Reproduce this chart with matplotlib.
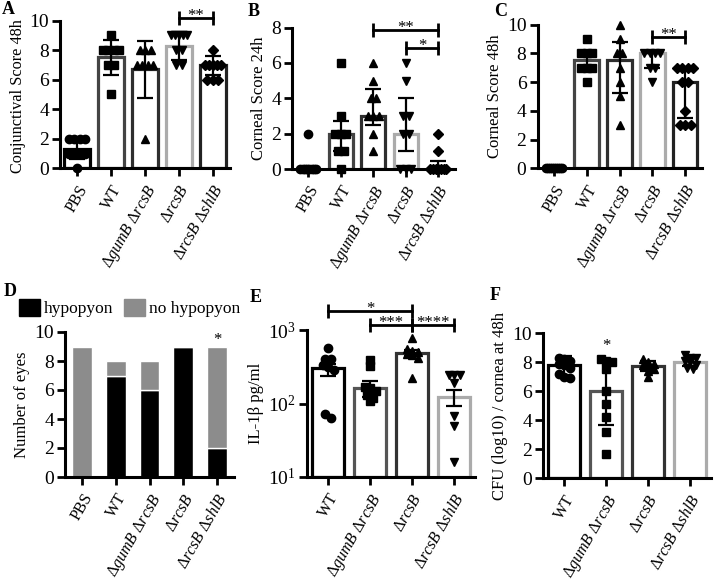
import matplotlib
matplotlib.use("Agg")
import matplotlib.pyplot as plt
from matplotlib.patches import Patch
import numpy as np

plt.rcParams["font.family"] = ["Liberation Serif", "DejaVu Serif"]
plt.rcParams["mathtext.fontset"] = "custom"
plt.rcParams["mathtext.rm"] = "Liberation Serif"
plt.rcParams["mathtext.it"] = "Liberation Serif:italic"
plt.rcParams["mathtext.bf"] = "Liberation Serif:bold"

# tick labels
labels5 = ["PBS", "WT",
           r"$\Delta\mathit{gumB}$ $\Delta\mathit{rcsB}$",
           r"$\Delta\mathit{rcsB}$",
           r"$\Delta\mathit{rcsB}$ $\Delta\mathit{shlB}$"]
labels4 = labels5[1:]

# A - conjunctival score 48h
a_pts = [[2, 2, 2, 2, 1, 1, 1, 1, 0], [9, 8, 8, 8, 8, 7, 7, 5],
         [8, 8, 8, 7, 7, 7, 7, 2], [9, 9, 9, 9, 9, 8, 8, 7, 7],
         [8, 7, 7, 7, 7, 7, 6, 6, 6]]
a_bar = [1.33, 7.5, 6.75, 8.25, 7.0]
a_lo = [0.6, 6.3, 4.75, 7.35, 6.3]
a_hi = [2.0, 8.7, 8.6, 9.2, 7.6]

# B - corneal score 24h
b_pts = [[2, 0, 0, 0, 0, 0, 0, 0, 0], [6, 3, 2, 2, 2, 1, 1, 0],
         [6, 5, 4, 4, 3, 3, 3, 2, 1], [6, 5, 3, 3, 2, 2, 0, 0, 0],
         [2, 1, 0, 0, 0, 0, 0, 0, 0]]
b_bar = [0, 2, 3, 2, 0]
b_lo = [0, 1, 2.5, 1, 0]
b_hi = [0, 2.7, 4.5, 4, 0.45]

# C - corneal score 48h
c_pts = [[0, 0, 0, 0, 0, 0, 0, 0, 0], [9, 8, 8, 8, 7, 7, 7, 6],
         [10, 9, 8, 8, 7, 6, 5, 3], [8, 8, 8, 8, 7, 7, 6],
         [7, 7, 7, 7, 6, 6, 4, 3, 3, 3]]
c_bar = [0, 7.5, 7.5, 8, 6]
c_lo = [0, 7, 5.25, 7, 3.5]
c_hi = [0, 8, 8.75, 8, 6.9]

# D - hypopyon counts
d_hyp = [0, 7, 6, 9, 2]
d_nohyp = [9, 1, 2, 0, 7]

# E - IL-1b pg/ml
e_pts = [[570, 400, 400, 330, 310, 290, 64, 71],
         [396, 322, 170, 160, 150, 132, 107, 118],
         [780, 560, 520, 500, 470, 450, 420, 224],
         [247, 247, 247, 191, 67, 50, 16]]
e_bar = [300, 160, 490, 123]
e_lo = [240, 124, 440, 92]
e_hi = [350, 201, 530, 151]

# F - CFU log10
f_pts = [[8.3, 8.2, 8.1, 7.9, 7.8, 7.6, 7.2, 7.0, 6.9],
         [8.2, 8.1, 8.0, 7.5, 6.0, 5.1, 4.2, 3.2, 1.7],
         [8.2, 8.0, 7.9, 7.8, 7.7, 7.5, 7.4, 7.0],
         [8.5, 8.3, 8.3, 8.1, 8.0, 7.8, 7.6, 7.5]]
f_bar = [7.8, 6.0, 7.75, 8.0]
f_lo = [7.1, 3.7, 7.4, 7.7]
f_hi = [8.4, 8.1, 8.1, 8.3]

W, H = 714, 582
fig = plt.figure(figsize=(W / 100, H / 100), dpi=100)


def ax_px(left, top, width, bottom):
    return fig.add_axes([left / W, 1 - bottom / H, width / W, (bottom - top) / H])


def style(ax, n, labels):
    for s in ["top", "right"]:
        ax.spines[s].set_visible(False)
    for s in ["left", "bottom"]:
        ax.spines[s].set_linewidth(2.2)
    ax.tick_params(axis="both", width=2, length=6, labelsize=14)
    ax.tick_params(axis="y", pad=2)
    ax.tick_params(axis="x", labelsize=11.5, pad=4)
    ax.set_xlim(-0.5, n - 0.5)
    ax.set_xticks(range(n))
    ax.set_xticklabels(labels, rotation=60, ha="right", rotation_mode="anchor")


def swarm(ax, x0, vals, d=5.5, maxw=16):
    vals = np.sort(np.array(vals, dtype=float))[::-1]
    pix = ax.transData.transform(np.column_stack([np.full(len(vals), x0), vals]))
    rows = []
    for p in pix:
        if rows and abs(rows[-1][0][1] - p[1]) < 5:
            rows[-1].append(p)
        else:
            rows.append([p])
    out = []
    for row in rows:
        n = len(row)
        step = d if n < 2 else min(d, maxw / (n - 1))
        for i, p in enumerate(row):
            out.append([p[0] + (i - (n - 1) / 2) * step, p[1]])
    return ax.transData.inverted().transform(np.array(out))


def scatter_bar(ax, pts, bar, lo, hi, edges, markers, sizes, bottom=0):
    x = np.arange(len(bar))
    bar = np.array(bar, dtype=float)
    ax.bar(x, bar - bottom, bottom=bottom, width=0.75, facecolor="white",
           edgecolor=edges, linewidth=2.3, zorder=1)
    for i in range(len(bar)):
        xy = swarm(ax, i, pts[i])
        ax.plot(xy[:, 0], xy[:, 1], ls="none", marker=markers[i], ms=sizes[i],
                color="black", zorder=2, clip_on=False)
    err = [bar - np.array(lo), np.array(hi) - bar]
    ax.errorbar(x, bar, yerr=err, fmt="none", ecolor="black", elinewidth=1.6,
                capsize=5.5, capthick=1.6, zorder=3)


def stars(ax, x, y, txt):
    ax.annotate(txt, (x, y), xytext=(0, -1.5), textcoords="offset points",
                ha="center", va="baseline", fontsize=12, annotation_clip=False)


def bracket(ax, x1, x2, y, txt):
    ax.plot([x1, x2], [y, y], color="black", lw=2, marker="|", ms=10, mew=2,
            clip_on=False, zorder=4)
    stars(ax, (x1 + x2) / 2, y, txt)


edges5 = ["black", "#444444", "#2e2e2e", "#ababab", "#222222"]
marks5 = ["o", "s", "^", "v", "D"]
sizes5 = [6, 6, 6, 6, 4.8]
edges4 = ["black", "#555555", "#333333", "#ababab"]
marks4 = ["o", "s", "^", "v"]
sizes4 = [6, 6, 6, 6]
ylab_fs = 12

# A
axA = ax_px(60, 20.5, 170, 168.3)
axA.set_ylim(0, 10)
axA.set_yticks(range(0, 11, 2))
style(axA, 5, labels5)
scatter_bar(axA, a_pts, a_bar, a_lo, a_hi, edges5, marks5, sizes5)
bracket(axA, 3, 4, 10.15, "**")
axA.set_ylabel("Conjunctival Score 48h", fontsize=11.7)
axA.yaxis.set_label_coords(-0.2, 0.49)

# B
axB = ax_px(292, 27.5, 162.5, 169)
axB.set_ylim(0, 8)
axB.set_yticks(range(0, 9, 2))
style(axB, 5, labels5)
scatter_bar(axB, b_pts, b_bar, b_lo, b_hi, edges5, marks5, sizes5)
bracket(axB, 2, 4, 7.85, "**")
bracket(axB, 3, 4, 6.85, "*")
axB.set_ylabel("Corneal Score 24h", fontsize=ylab_fs, labelpad=3)

# C
axC = ax_px(537.5, 24.5, 164, 168.3)
axC.set_ylim(0, 10)
axC.set_yticks(range(0, 11, 2))
style(axC, 5, labels5)
scatter_bar(axC, c_pts, c_bar, c_lo, c_hi, edges5, marks5, sizes5)
bracket(axC, 3, 4, 9.15, "**")
axC.set_ylabel("Corneal Score 48h", fontsize=ylab_fs, labelpad=3)

# D
axD = ax_px(65, 332, 169, 477)
axD.set_ylim(0, 10)
axD.set_yticks(range(0, 11, 2))
style(axD, 5, labels5)
xd = np.arange(5)
axD.bar(xd, d_hyp, width=0.58, color="black", edgecolor="white", linewidth=1)
axD.bar(xd, d_nohyp, bottom=d_hyp, width=0.58, color="#8c8c8c",
        edgecolor="white", linewidth=1)
stars(axD, 4, d_hyp[4] + d_nohyp[4] + 0.3, "*")
axD.set_ylabel("Number of eyes", fontsize=ylab_fs, labelpad=3)
fig.legend(handles=[Patch(color="black"), Patch(color="#8c8c8c")],
           labels=["hypopyon", "no hypopyon"], loc="center left",
           bbox_to_anchor=(19 / W, 1 - 308 / H), ncol=2, frameon=False,
           handlelength=1.2, handleheight=1.2, handletextpad=0.25,
           columnspacing=0.6, fontsize=12.5, borderpad=0, borderaxespad=0)

# E
axE = ax_px(307, 330, 168, 477)
axE.set_yscale("log")
axE.set_ylim(10, 1000)
style(axE, 4, labels4)
axE.minorticks_off()
scatter_bar(axE, e_pts, e_bar, e_lo, e_hi, edges4, marks4, sizes4, bottom=10)
bracket(axE, 0, 2, 1800, "*")
bracket(axE, 1, 2, 1180, "***")
bracket(axE, 2, 3, 1180, "****")
axE.set_ylabel("IL-1β pg/ml", fontsize=ylab_fs, labelpad=3)

# F
axF = ax_px(543, 333, 168, 478.3)
axF.set_ylim(0, 10)
axF.set_yticks(range(0, 11, 2))
style(axF, 4, labels4)
scatter_bar(axF, f_pts, f_bar, f_lo, f_hi, edges4, marks4, sizes4)
stars(axF, 1, 9.0, "*")
axF.set_ylabel("CFU (log10) / cornea at 48h", fontsize=ylab_fs, labelpad=3)

# panel letters
for lab, x, y in [("A", 2, 10), ("B", 248, 12), ("C", 494, 12),
                  ("D", 4, 292), ("E", 250, 298), ("F", 490, 296)]:
    fig.text(x / W, 1 - y / H, lab, fontsize=13, fontweight="bold", va="center")

fig.savefig("out.png", dpi=100)
